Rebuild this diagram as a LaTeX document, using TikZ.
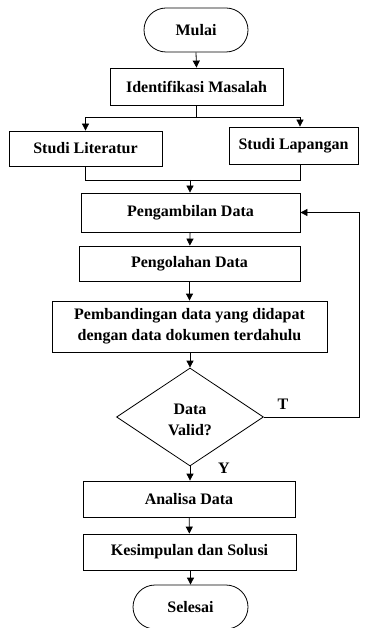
\documentclass[tikz,border=0pt]{standalone}
\usepackage{fontspec}
\setmainfont{Liberation Serif}
\usetikzlibrary{arrows.meta,shapes.geometric,shapes.misc}
\begin{document}
\begin{tikzpicture}[x=1pt,y=-1pt,
  every node/.style={font=\fontsize{16}{21}\selectfont\bfseries, align=center, inner sep=0pt},
  box/.style={draw, line width=0.8pt, rectangle},
  term/.style={draw, line width=0.8pt, rounded rectangle},
  conn/.style={line width=0.8pt},
  arr/.style={conn, -{Triangle[length=7pt,width=7pt]}}
]
\useasboundingbox (0,0) rectangle (364,628);
\clip (0,0) rectangle (364,628);
\node[term, minimum width=104pt, minimum height=44pt] (mulai) at (196,30) {Mulai};
\node[box, minimum width=173pt, minimum height=37pt] (ident) at (196.5,86.5) {Identifikasi Masalah};
\node[box, minimum width=153pt, minimum height=35pt] (lit) at (85.5,148.5) {Studi Literatur};
\node[box, minimum width=129pt, minimum height=37pt] (lap) at (293.5,145.5) {Studi Lapangan};
\node[box, minimum width=219pt, minimum height=39pt] (ambil) at (190.5,212.5) {Pengambilan Data};
\node[box, minimum width=221pt, minimum height=35pt] (olah) at (189.5,263.5) {Pengolahan Data};
\node[box, minimum width=275pt, minimum height=51pt] (banding) at (189.5,326.5) {Pembandingan data yang didapat\\dengan data dokumen terdahulu};
\node[draw, line width=0.8pt, diamond, minimum width=147pt, minimum height=98pt] (valid) at (190,417) {};
\node (validtxt) at (190,420) {Data\\Valid?};
\node[box, minimum width=212pt, minimum height=36pt] (analisa) at (189,499) {Analisa Data};
\node[box, minimum width=213pt, minimum height=36pt] (kesim) at (189.5,552) {Kesimpulan dan Solusi};
\node[term, minimum width=115pt, minimum height=44pt] (selesai) at (190.5,607) {Selesai};
\node (tlab) at (283,404) {T};
\node (ylab) at (224,468) {Y};
% connectors
\coordinate (j1) at (196.5,117);
\coordinate (j2) at (190,180);
\coordinate (fb) at (359,417);
\draw[arr] (mulai.south) -- (ident.north);
\draw[conn] (ident.south) -- (j1);
\draw[arr] (j1) -| (lit.north);
\draw[arr] (j1) -| ([xshift=6.5pt]lap.north);
\draw[conn] (lit.south) |- (j2);
\draw[conn] ([xshift=6.5pt]lap.south) |- (j2);
\draw[arr] (j2) -- (j2 |- ambil.north);
\draw[arr] (ambil) -- (olah);
\draw[arr] (olah) -- (banding);
\draw[arr] (banding.south -| valid.north) -- (valid.north);
\draw[arr] (valid.south) -- (valid.south |- analisa.north);
\draw[arr] (analisa) -- (kesim);
\draw[arr] (kesim.south -| selesai.north) -- (selesai.north);
\draw[arr] (valid.east) -- (fb) |- (ambil.east);
\end{tikzpicture}
\end{document}
